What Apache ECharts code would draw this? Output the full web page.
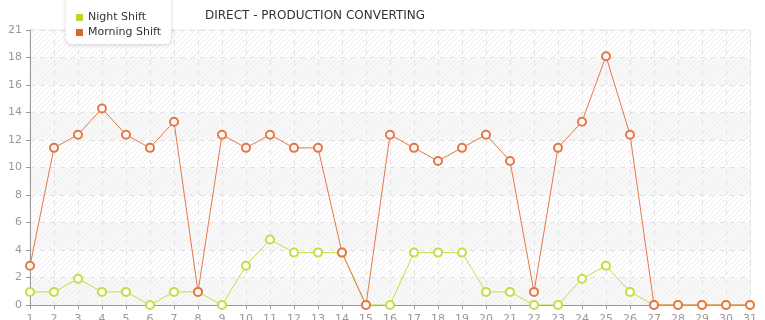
<!DOCTYPE html>
<html>
<head>
<meta charset="utf-8">
<script src="https://cdn.jsdelivr.net/npm/echarts@6/dist/echarts.min.js"></script>
<style>
html,body{margin:0;padding:0;background:#fff;}
#c{width:765px;height:320px;}
</style>
</head>
<body>
<div id="c"></div>
<script>
var categories = ['1','2','3','4','5','6','7','8','9','10','11','12','13','14','15','16','17','18','19','20','21','22','23','24','25','26','27','28','29','30','31'];
var nightShift = [1,1,2,1,1,0,1,1,0,3,5,4,4,4,0,0,4,4,4,1,1,0,0,2,3,1,0,0,0,0,0];
var morningShift = [3,12,13,15,13,12,14,1,13,12,13,12,12,4,0,13,12,11,12,13,11,1,12,14,19,13,0,0,0,0,0];
var titleText = 'DIRECT - PRODUCTION CONVERTING';
var yMax = 21;
var yInterval = 2.1;

function hatch(bg) {
  var cv = document.createElement('canvas');
  cv.width = 5; cv.height = 5;
  var ctx = cv.getContext('2d');
  ctx.fillStyle = bg;
  ctx.fillRect(0, 0, 5, 5);
  ctx.strokeStyle = '#ededed';
  ctx.lineWidth = 1;
  ctx.beginPath();
  ctx.moveTo(-1, 6); ctx.lineTo(6, -1);
  ctx.moveTo(-1, 1); ctx.lineTo(1, -1);
  ctx.moveTo(4, 6); ctx.lineTo(6, 4);
  ctx.stroke();
  return {image: cv, repeat: 'repeat'};
}

var chart = echarts.init(document.getElementById('c'), null, {renderer: 'canvas'});
var font = 'DejaVu Sans';
chart.setOption({
  animation: false,
  textStyle: {fontFamily: font},
  title: {
    text: titleText,
    left: 200, top: 5,
    textStyle: {fontFamily: font, fontSize: 12, fontWeight: 'normal', color: '#333'}
  },
  legend: {
    orient: 'vertical',
    left: 66, top: -4,
    padding: [16, 10, 6, 10],
    itemGap: 4,
    itemWidth: 7, itemHeight: 7,
    icon: 'rect',
    backgroundColor: '#fff',
    borderRadius: 6,
    shadowBlur: 4,
    shadowColor: 'rgba(0,0,0,0.18)',
    shadowOffsetY: 1,
    textStyle: {fontFamily: font, fontSize: 11, color: '#333', padding: [0, 0, 0, 0]},
    data: [
      {name: 'Night Shift', itemStyle: {color: '#b9d62c'}},
      {name: 'Morning Shift', itemStyle: {color: '#e0622c'}}
    ]
  },
  grid: {
    left: 30, right: 15, top: 30, bottom: 15,
    outerBoundsMode: 'none',
    containLabel: false,
    show: true,
    borderColor: '#e4e4e4',
    borderWidth: 1,
    backgroundColor: 'transparent'
  },
  xAxis: {
    type: 'category',
    data: categories,
    boundaryGap: false,
    axisLine: {lineStyle: {color: '#999'}},
    axisTick: {show: true, length: 4, alignWithLabel: true, lineStyle: {color: '#999'}},
    axisLabel: {color: '#999', fontSize: 11, fontFamily: font, margin: 9, interval: 0},
    splitLine: {show: true, lineStyle: {color: '#e2e2e2', type: [5, 5]}}
  },
  yAxis: {
    type: 'value',
    min: 0, max: yMax, interval: yInterval,
    axisLine: {show: true, lineStyle: {color: '#999'}},
    axisTick: {show: true, length: 4, lineStyle: {color: '#999'}},
    axisLabel: {
      color: '#999', fontSize: 11, fontFamily: font, margin: 8,
      formatter: function (v) { return String(Math.floor(v + 1e-9)); }
    },
    splitLine: {show: true, lineStyle: {color: '#e2e2e2', type: [5, 5]}},
    splitArea: {show: true, areaStyle: {color: [hatch('#f8f8f8'), hatch('#ffffff')]}}
  },
  series: [
    {
      name: 'Night Shift', type: 'line', data: nightShift,
      symbol: 'emptyCircle', symbolSize: 8,
      lineStyle: {color: '#c3de45', width: 1},
      itemStyle: {color: '#c3de45', borderWidth: 0.9},
      z: 2
    },
    {
      name: 'Morning Shift', type: 'line', data: morningShift,
      symbol: 'emptyCircle', symbolSize: 8,
      lineStyle: {color: '#e67744', width: 1},
      itemStyle: {color: '#e67744', borderWidth: 0.9},
      z: 3
    }
  ]
});
</script>
</body>
</html>
